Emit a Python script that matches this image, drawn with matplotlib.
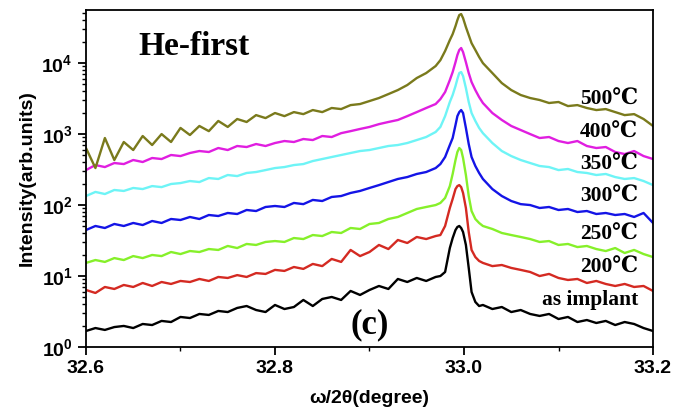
import numpy as np
import matplotlib
matplotlib.use("Agg")
import matplotlib.pyplot as plt
from matplotlib.ticker import FixedLocator, LogLocator, FuncFormatter, NullFormatter

plt.rcParams['mathtext.fontset'] = 'custom'
plt.rcParams['mathtext.bf'] = 'Liberation Sans:bold'
plt.rcParams['mathtext.rm'] = 'Liberation Sans:bold'

# 2theta positions (degree), shared by all scans
two_theta = [32.60, 32.61, 32.62, 32.63, 32.64, 32.65, 32.66, 32.67, 32.68, 32.69,
             32.70, 32.71, 32.72, 32.73, 32.74, 32.75, 32.76, 32.77, 32.78, 32.79,
             32.80, 32.81, 32.82, 32.83, 32.84, 32.85, 32.86, 32.87, 32.88, 32.89,
             32.90, 32.91, 32.92, 32.93, 32.94, 32.95, 32.96, 32.97,
             32.975, 32.98, 32.985, 32.988, 32.991, 32.993, 32.995, 32.997, 32.999,
             33.002, 33.005, 33.008, 33.012, 33.016, 33.02,
             33.03, 33.04, 33.05, 33.06, 33.07, 33.08, 33.09, 33.10, 33.11, 33.12,
             33.13, 33.14, 33.15, 33.16, 33.17, 33.18, 33.19, 33.20]

as_implant = [1.68, 1.85, 1.74, 1.91, 1.98, 1.85, 2.11, 2.04, 2.33, 2.25,
              2.65, 2.56, 2.92, 2.83, 3.22, 3.11, 3.55, 3.78, 3.32, 3.11,
              3.91, 3.43, 3.66, 4.60, 3.78, 4.75, 5.07, 4.60, 6.16, 5.41,
              6.36, 7.24, 6.57, 9.09, 8.24, 9.39, 8.52, 9.70,
              10.0, 11.4, 24.8, 34.3, 44.5, 49.1, 50.7, 47.5, 41.7, 27.4, 13.0, 5.96, 4.31, 3.78, 3.91,
              3.43, 3.66, 3.11, 3.32, 2.92, 2.74, 2.92, 2.48, 2.65, 2.25, 2.40, 2.18, 2.33, 2.04, 2.25, 2.11, 1.85, 1.68]

t200 = [6.36, 5.77, 7.01, 6.57, 7.48, 7.01, 7.98, 7.24, 8.24, 7.73,
        8.52, 8.24, 9.09, 8.52, 9.70, 9.39, 10.3, 9.70, 11.0, 10.7,
        12.2, 11.8, 13.4, 12.6, 14.8, 13.8, 17.4, 15.8, 23.3, 19.1,
        21.8, 27.4, 24.0, 32.2, 29.2, 35.5, 33.2, 36.6,
        37.8, 50.7, 90.9, 122, 168, 185, 191, 179, 148, 90.9, 41.7, 23.3, 18.5, 16.3, 15.3,
        13.8, 14.3, 13.0, 12.2, 11.4, 10.0, 10.7, 9.39, 8.80, 9.09, 7.98, 8.52, 7.73, 7.24, 7.73, 7.01, 7.24, 6.16]

t250 = [15.3, 16.8, 15.8, 17.9, 16.8, 19.1, 17.9, 19.8, 19.1, 21.8,
        20.4, 22.5, 21.8, 24.0, 23.3, 26.5, 24.8, 28.3, 27.4, 30.2,
        31.1, 30.2, 34.3, 33.2, 37.8, 36.6, 41.7, 40.4, 47.5, 46.0,
        54.1, 55.9, 63.6, 67.9, 77.3, 88.0, 93.9, 100,
        107, 126, 185, 274, 431, 559, 636, 596, 460, 265, 134, 82.4, 63.6, 55.9, 50.7,
        46.0, 40.4, 37.8, 35.5, 33.2, 30.2, 31.1, 27.4, 28.3, 25.6, 26.5, 24.0, 22.5, 24.8, 21.1, 23.3, 20.4, 18.5]

t300 = [44.5, 50.7, 47.5, 54.1, 50.7, 55.9, 52.3, 59.6, 55.9, 63.6,
        61.6, 67.9, 63.6, 72.4, 70.1, 77.3, 74.8, 85.2, 82.4, 93.9,
        97.0, 93.9, 107, 103, 118, 114, 130, 134, 148, 158,
        174, 191, 211, 233, 248, 274, 292, 332,
        378, 475, 701, 880, 1340, 1790, 2040, 2180, 1980, 1220, 724, 475, 355, 283, 233,
        168, 134, 114, 103, 100, 90.9, 93.9, 85.2, 88.0, 79.8, 82.4, 74.8, 77.3, 72.4, 74.8, 67.9, 77.3, 55.9]

t350 = [134, 153, 143, 163, 158, 174, 168, 185, 179, 198,
        204, 218, 211, 240, 233, 265, 256, 283, 292, 311,
        332, 343, 366, 378, 417, 445, 475, 507, 541, 577,
        596, 636, 679, 701, 748, 824, 909, 1070,
        1260, 1790, 2830, 3550, 4750, 5960, 7240, 7480, 6570, 4450, 2830, 1980, 1530, 1220, 1030,
        748, 577, 490, 431, 391, 355, 343, 311, 322, 292, 283, 265, 274, 248, 233, 240, 218, 191]

t400 = [311, 366, 343, 391, 378, 431, 404, 460, 445, 507,
        490, 541, 577, 559, 636, 596, 679, 657, 724, 679,
        748, 798, 773, 852, 824, 939, 909, 1030, 1100, 1180,
        1260, 1380, 1480, 1580, 1790, 2040, 2330, 2650,
        3110, 3910, 5770, 7480, 10300, 13000, 15300, 16300, 14300, 10300, 7240, 5410, 4170, 3320, 2740,
        1980, 1580, 1300, 1140, 1000, 880, 909, 798, 748, 798, 679, 636, 657, 559, 523, 577, 490, 445]

t500 = [636, 332, 880, 431, 773, 596, 939, 701, 1000, 773,
        1220, 970, 1300, 1100, 1530, 1260, 1630, 1480, 1850, 1680,
        1980, 1790, 2040, 1910, 2180, 2040, 2330, 2250, 2560, 2650,
        2920, 3220, 3660, 4170, 4910, 6160, 7240, 9090,
        11000, 14800, 21100, 25600, 33200, 40400, 47500, 49100, 43100, 32200, 24800, 19100, 15300, 12200, 10000,
        7240, 5230, 4170, 3550, 3220, 3020, 2740, 2830, 2480, 2560, 2330, 2180, 2250, 2040, 1850, 1910, 1630, 1300]

series = [as_implant, t200, t250, t300, t350, t400, t500]
labels = ['as implant', '200\u2103', '250\u2103', '300\u2103', '350\u2103', '400\u2103', '500\u2103']
colors = ['#000000', '#d42a22', '#86f02a', '#1414e6', '#6ef4f6', '#e01ee0', '#7a7a1c']
label_y = [0.139, 0.234, 0.332, 0.445, 0.540, 0.635, 0.733]

fig = plt.figure(figsize=(6.84, 4.11), dpi=100)
ax = fig.add_axes([0.1257, 0.1557, 0.829, 0.82])

for y, c in zip(series, colors):
    ax.plot(two_theta, y, color=c, lw=1.7, solid_joinstyle='round')

ax.set_yscale('log')
ax.set_xlim(32.6, 33.2)
ax.set_ylim(1, 5.6e4)

ax.xaxis.set_major_locator(FixedLocator([32.6, 32.8, 33.0, 33.2]))
ax.xaxis.set_minor_locator(FixedLocator([32.7, 32.9, 33.1]))
ax.xaxis.set_major_formatter(FuncFormatter(lambda v, p: f'{v:.1f}'))
ax.yaxis.set_major_locator(LogLocator(base=10, numticks=10))
ax.yaxis.set_minor_locator(LogLocator(base=10, subs=np.arange(2, 10), numticks=20))
ax.yaxis.set_minor_formatter(NullFormatter())
ax.yaxis.set_major_formatter(FuncFormatter(lambda v, p: r'$\mathbf{10^{%d}}$' % round(np.log10(v))))

ax.tick_params(which='major', direction='out', length=6, width=1.3, top=False, right=False,
               labelsize=14)
ax.tick_params(which='minor', direction='out', length=3, width=1.0, top=False, right=False)
for lab in ax.get_xticklabels():
    lab.set_fontfamily('Liberation Sans')
    lab.set_fontweight('bold')
for s in ax.spines.values():
    s.set_linewidth(1.3)

ax.set_xlabel('\u03c9/2\u03b8(degree)', fontsize=14, fontweight='bold',
              family=['Liberation Sans', 'DejaVu Sans'], labelpad=9)
ax.set_ylabel('Intensity(arb.units)', fontsize=14, fontweight='bold',
              family='Liberation Sans', labelpad=4)

serif = ['Liberation Serif', 'DejaVu Serif', 'Noto Sans CJK SC']
for lab, ly in zip(labels, label_y):
    ax.text(0.974, ly, lab, transform=ax.transAxes, ha='right', va='center',
            fontsize=15.5, fontweight='bold', family=serif)

ax.text(0.092, 0.893, 'He-first', transform=ax.transAxes, ha='left', va='center',
        fontsize=24, fontweight='bold', family='Liberation Serif')
ax.text(0.50, 0.065, '(c)', transform=ax.transAxes, ha='center', va='center',
        fontsize=25, fontweight='bold', family='Liberation Serif')

fig.savefig('out.png', dpi=100)
